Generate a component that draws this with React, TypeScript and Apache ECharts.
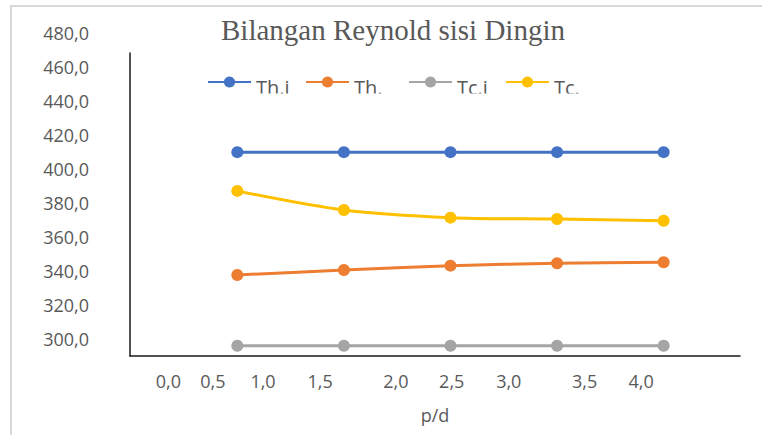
import React, { useEffect, useRef } from "react";
import * as echarts from "echarts";

// p/d values of the five measurements
const pdValues = [0.8, 1.65, 2.5, 3.35, 4.2];
const thIn = [410, 410, 410, 410, 410];
const thOut = [337.8, 340.7, 343.3, 344.7, 345.3];
const tcIn = [296.2, 296.2, 296.2, 296.2, 296.2];
const tcOut = [387.2, 376.0, 371.5, 370.7, 369.7];

const seriesNames = ["Th.i", "Th.", "Tc.i", "Tc."];
const seriesColors = ["#4472C4", "#ED7D31", "#A5A5A5", "#FFC000"];

// x tick labels as printed and the p/d value where each is printed
const xTickText = ["0,0", "0,5", "1,0", "1,5", "2,0", "2,5", "3,0", "3,5", "4,0"];
const xTickAt = [0.25, 0.605, 1.005, 1.46, 2.065, 2.51, 2.965, 3.57, 4.02];
const yTicks = [300, 320, 340, 360, 380, 400, 420, 440, 460, 480];

const legendLeft = [207, 305, 408, 505];

export default function App() {
  const ref = useRef<HTMLDivElement>(null);
  useEffect(() => {
    document.body.style.margin = "0";
    const chart = echarts.init(ref.current!, null, { renderer: "svg" });
    const all = [thIn, thOut, tcIn, tcOut];
    const font = "'Open Sans', 'Noto Sans', sans-serif";
    chart.setOption({
      animation: false,
      backgroundColor: "#fff",
      title: {
        text: "Bilangan Reynold sisi Dingin",
        left: 221,
        top: 15,
        padding: 0,
        textStyle: {
          fontFamily: "'Liberation Serif', serif",
          fontSize: 29,
          fontWeight: "normal",
          color: "#595959",
        },
      },
      legend: seriesNames.map((n, i) => ({
        data: [n],
        left: legendLeft[i],
        top: 68,
        padding: 0,
        itemWidth: 43,
        itemHeight: 14,
        itemGap: 5,
        formatter: (name: string) => "{s| }\n{t|" + name + "}",
        textStyle: {
          fontFamily: font,
          fontSize: 20,
          color: "#595959",
          rich: {
            s: { fontSize: 8, lineHeight: 10 },
            t: { fontFamily: font, fontSize: 20, lineHeight: 20, color: "#595959" },
          },
        },
      })),
      grid: [
        { left: 130, right: 22, top: 33, bottom: 79 },
        { left: 130, right: 22, top: 53, bottom: 79 },
      ],
      xAxis: [
        {
          type: "value",
          gridIndex: 0,
          min: -0.0557,
          max: 4.809,
          name: "p/d",
          nameLocation: "middle",
          nameGap: 50,
          nameTextStyle: { fontFamily: font, fontSize: 18, color: "#595959" },
          axisLine: { show: true, lineStyle: { color: "#1a1a1a", width: 1.5 } },
          axisTick: { show: false },
          splitLine: { show: false },
          axisLabel: {
            customValues: xTickAt,
            margin: 16,
            fontFamily: font,
            fontSize: 18,
            color: "#595959",
            formatter: (v: number) => {
              let best = 0;
              xTickAt.forEach((p, i) => {
                if (Math.abs(p - v) < Math.abs(xTickAt[best] - v)) best = i;
              });
              return xTickText[best];
            },
          },
        },
        { type: "value", gridIndex: 1, min: 0, max: 1, show: false },
      ],
      yAxis: [
        {
          type: "value",
          gridIndex: 0,
          min: 290.2,
          max: 480,
          axisLine: { show: false },
          axisTick: { show: false },
          splitLine: { show: false },
          axisLabel: {
            customValues: yTicks,
            margin: 41,
            fontFamily: font,
            fontSize: 18,
            color: "#595959",
            formatter: (v: number) => v.toFixed(1).replace(".", ","),
          },
        },
        {
          type: "value",
          gridIndex: 1,
          min: 0,
          max: 1,
          axisLine: { show: true, onZero: false, lineStyle: { color: "#1a1a1a", width: 1.5 } },
          axisTick: { show: false },
          axisLabel: { show: false },
          splitLine: { show: false },
        },
      ],
      series: seriesNames.map((n, i) => ({
        name: n,
        type: "line",
        xAxisIndex: 0,
        yAxisIndex: 0,
        data: pdValues.map((x, j) => [x, all[i][j]]),
        smooth: 0.3,
        symbol: "circle",
        symbolSize: 12,
        lineStyle: { width: 3, color: seriesColors[i] },
        itemStyle: { color: seriesColors[i] },
        color: seriesColors[i],
      })),
      graphic: [
        {
          type: "rect",
          z: 100,
          shape: { x: 11, y: 6, width: 900, height: 600 },
          style: { fill: "none", stroke: "#d9d9d9", lineWidth: 2 },
        },
        {
          type: "rect",
          z: 100,
          shape: { x: 190, y: 93.5, width: 420, height: 8 },
          style: { fill: "#fff" },
        },
      ],
    });
    return () => chart.dispose();
  }, []);
  return <div ref={ref} style={{ width: 762, height: 435 }} />;
}
